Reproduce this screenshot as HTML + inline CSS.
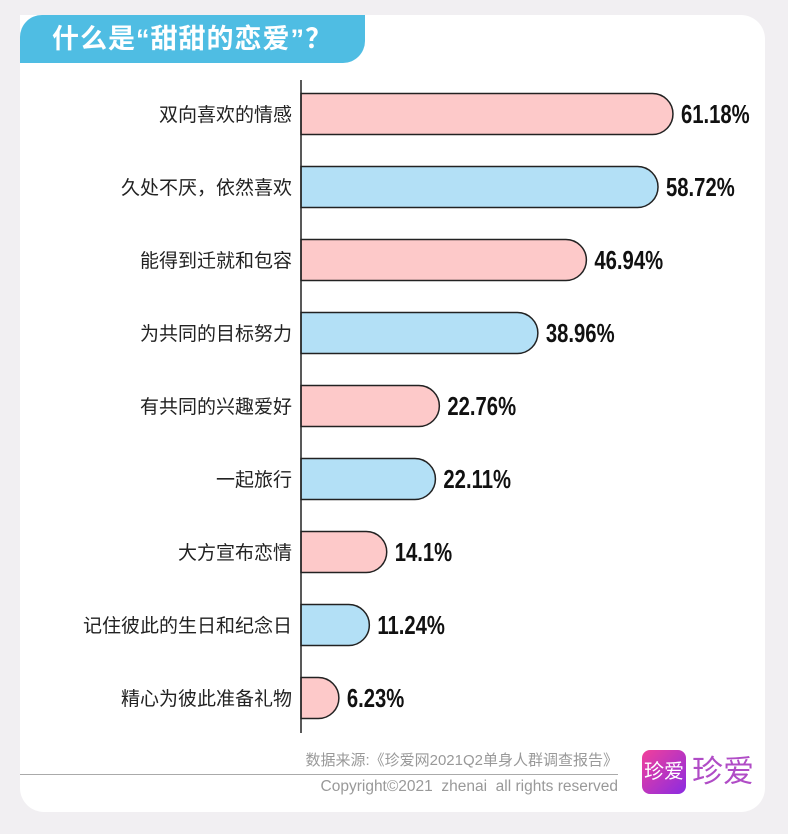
<!DOCTYPE html>
<html><head><meta charset="utf-8"><style>
body{margin:0;width:788px;height:834px;background:#f1eff2;font-family:"Liberation Sans","Noto Sans CJK SC",sans-serif;overflow:hidden}
#card{position:absolute;left:20px;top:15px;width:745px;height:797px;background:#fff;border-radius:0 24px 24px 24px}
#tab{position:absolute;left:20px;top:15px;width:345px;height:48px;background:#4fbde3;border-radius:22px 0 22px 0;color:#fff;font-size:27px;font-weight:bold;line-height:48px;padding-left:32px;box-sizing:border-box;letter-spacing:1px}
svg{position:absolute;left:0;top:0}
</style></head><body>
<div id="card"></div>
<div id="tab">什么是“甜甜的恋爱”？</div>
<svg id="chart" width="788" height="834"></svg>
<div style="position:absolute;right:170px;top:749px;font-size:15px;color:#999">数据来源:《珍爱网2021Q2单身人群调查报告》</div>
<div style="position:absolute;left:20px;top:774px;width:598px;height:1px;background:#aaa"></div>
<div style="position:absolute;right:170px;top:778px;font-size:15.5px;color:#999">Copyright©2021&nbsp; zhenai&nbsp; all rights reserved</div>
<div style="position:absolute;left:642px;top:750px;width:44px;height:44px;border-radius:8px;background:linear-gradient(135deg,#f2409a,#8a2be2);color:#fff;font-size:20px;line-height:44px;text-align:center">珍爱</div>
<div style="position:absolute;left:692px;top:750px;font-size:31px;color:#b04cc6;line-height:44px">珍爱</div>
<script>
const categories=["双向喜欢的情感","久处不厌，依然喜欢","能得到迁就和包容","为共同的目标努力","有共同的兴趣爱好","一起旅行","大方宣布恋情","记住彼此的生日和纪念日","精心为彼此准备礼物"];
const values=[61.18,58.72,46.94,38.96,22.76,22.11,14.1,11.24,6.23];
const valueLabels=["61.18%","58.72%","46.94%","38.96%","22.76%","22.11%","14.1%","11.24%","6.23%"];
const NS="http://www.w3.org/2000/svg",svg=document.getElementById("chart");
const x0=301,scale=6.08,y0=114,step=73,h=41;
const x=v=>x0+v*scale, y=i=>y0+i*step;
function mk(t,a){const e=document.createElementNS(NS,t);for(const k in a)e.setAttribute(k,a[k]);svg.appendChild(e);return e;}
values.forEach((v,i)=>{
  const xe=x(v),yc=y(i),r=h/2,col=i%2?"#b3e0f6":"#fdc9c9";
  const p=mk("path",{d:`M${x0},${yc-r}H${xe-r}A${r},${r} 0 0 1 ${xe-r},${yc+r}H${x0}Z`,fill:col,stroke:"#222","stroke-width":1.5});
  
  
  const l=mk("text",{x:292,y:yc+7,"text-anchor":"end","font-size":19,fill:"#222"});
  l.textContent=categories[i];
  
  
  const t=mk("text",{x:xe+8,y:yc+9,"font-size":26,"font-weight":"bold",fill:"#111",transform:`translate(${xe+8},0) scale(0.78,1) translate(${-(xe+8)},0)`});
  t.textContent=valueLabels[i];
  
  
});
const ax=mk("line",{x1:x0,x2:x0,y1:80,y2:733,stroke:"#222","stroke-width":1.5});


</script>
</body></html>
